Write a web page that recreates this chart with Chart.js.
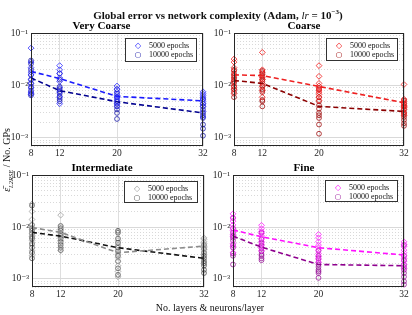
<!DOCTYPE html>
<html lang="en">
<head>
<meta charset="UTF-8">
<title>Global error vs network complexity</title>
<script src="https://cdn.jsdelivr.net/npm/chart.js"></script>
<style>
  body { margin: 0; background: #fff; font-family: 'Liberation Serif', 'DejaVu Serif', serif; color: #111; }
  #wrap { position: relative; width: 412px; height: 315px; overflow: hidden; }
  canvas { position: absolute; }
  .txt { position: absolute; white-space: nowrap; }
  #title { left: 218px; top: 5px; transform: translateX(-50%); font-size: 11px; font-weight: bold; line-height: 14px; }
  #title i { font-weight: normal; }
  #title sup { font-size: 7px; }
  #xlabel { left: 210px; top: 301px; transform: translateX(-50%); font-size: 10px; line-height: 13px; }
  #ylabel { left: 9px; top: 160px; transform: translate(-50%, -50%) rotate(-90deg); font-size: 10px; line-height: 12px; }
  #ylabel sub { font-size: 6.5px; font-style: italic; }
  .legend { position: absolute; border: 1px solid #333; background: #fff; font-size: 8px; box-sizing: border-box; color: #111; }
  .legend div { position: absolute; left: 0; right: 0; height: 10px; line-height: 10px; white-space: nowrap; }
  .legend span.m { position: absolute; left: 7px; width: 10px; text-align: center; font-family: 'DejaVu Sans', sans-serif; font-size: 8px; }
  .legend span.t { position: absolute; left: 23px; white-space: nowrap; transform: translateZ(0); }
</style>
</head>
<body>
<div id="wrap">
  <canvas id="c1" width="210" height="142" style="left:0;top:18px"></canvas>
  <canvas id="c2" width="207" height="142" style="left:204px;top:18px"></canvas>
  <canvas id="c3" width="211" height="141" style="left:0;top:160px"></canvas>
  <canvas id="c4" width="207" height="141" style="left:204px;top:160px"></canvas>

  <div class="txt" id="title">Global error vs network complexity (Adam, <i>lr</i> = 10<sup>−3</sup>)</div>
  <div class="txt" id="xlabel">No. layers &amp; neurons/layer</div>
  <div class="txt" id="ylabel"><i>ε̄</i><sub>L2RSE</sub> / No. GPs</div>

  <div class="legend" id="l1" style="left:125px;top:38px;width:72px;height:24px"></div>
  <div class="legend" id="l2" style="left:326px;top:38px;width:72px;height:23px"></div>
  <div class="legend" id="l3" style="left:124px;top:181px;width:74px;height:22px"></div>
  <div class="legend" id="l4" style="left:325px;top:180px;width:73px;height:22px"></div>
</div>

<script>
// x positions (layers & neurons/layer)
const xTicks = [8, 12, 20, 32];
const yTicks = [1e-3, 1e-2, 1e-1];
const yTickLabels = ['10⁻³', '10⁻²', '10⁻¹'];
const yMinorTicks = [7e-4, 8e-4, 9e-4,
  2e-3, 3e-3, 4e-3, 5e-3, 6e-3, 7e-3, 8e-3, 9e-3,
  2e-2, 3e-2, 4e-2, 5e-2, 6e-2, 7e-2, 8e-2, 9e-2];
const seriesLabels = ['5000 epochs', '10000 epochs'];

// one inner array per x position
const veryCoarse5000 = [
  [0.052, 0.028, 0.022, 0.018, 0.016, 0.013, 0.011, 0.009, 0.0075, 0.0068],
  [0.024, 0.02, 0.017, 0.014, 0.012, 0.009, 0.0075, 0.006, 0.0045],
  [0.0098, 0.0085, 0.0075, 0.0065, 0.006, 0.0055, 0.005, 0.0045, 0.004],
  [0.0076, 0.007, 0.0065, 0.006, 0.0055, 0.005, 0.0045, 0.004, 0.0032, 0.0025]
];
const veryCoarse10000 = [
  [0.03, 0.026, 0.02, 0.016, 0.013, 0.011, 0.0095, 0.008, 0.007, 0.0065],
  [0.017, 0.013, 0.0095, 0.0085, 0.0078, 0.007, 0.0062, 0.0055, 0.005],
  [0.0085, 0.007, 0.006, 0.005, 0.0045, 0.004, 0.0035, 0.003, 0.0023],
  [0.0055, 0.0045, 0.004, 0.0035, 0.003, 0.0027, 0.0024, 0.0018, 0.0015, 0.0011]
];
const veryCoarseMean5000 = [0.0186, 0.0136, 0.0062, 0.0051];
const veryCoarseMean10000 = [0.014, 0.008, 0.0049, 0.003];

const coarse5000 = [
  [0.032, 0.028, 0.022, 0.019, 0.016, 0.014, 0.012, 0.0098, 0.0085, 0.007],
  [0.043, 0.02, 0.018, 0.016, 0.014, 0.013, 0.011, 0.0095, 0.008, 0.006],
  [0.024, 0.015, 0.011, 0.0098, 0.009, 0.0082, 0.0075, 0.0068, 0.006, 0.0052],
  [0.0105, 0.0055, 0.005, 0.0046, 0.0042, 0.004, 0.0038, 0.0035, 0.003, 0.0027]
];
const coarse10000 = [
  [0.02, 0.017, 0.015, 0.013, 0.012, 0.011, 0.0095, 0.0085, 0.0075, 0.006],
  [0.019, 0.017, 0.015, 0.013, 0.012, 0.01, 0.0085, 0.0075, 0.0053, 0.005, 0.004],
  [0.0085, 0.006, 0.005, 0.0042, 0.0036, 0.003, 0.0027, 0.0024, 0.0018, 0.0012],
  [0.0052, 0.0045, 0.004, 0.0035, 0.0031, 0.0028, 0.0025, 0.0022, 0.0019, 0.0017]
];
const coarseMean5000 = [0.016, 0.0155, 0.0096, 0.0047];
const coarseMean10000 = [0.0125, 0.011, 0.004, 0.0032];

const intermediate5000 = [
  [0.028, 0.02, 0.014, 0.011, 0.009, 0.0075, 0.0065, 0.0055, 0.0045, 0.0035, 0.0028],
  [0.017, 0.0105, 0.009, 0.0078, 0.007, 0.0062, 0.0055, 0.0048, 0.004, 0.0035],
  [0.008, 0.0055, 0.0045, 0.0036, 0.003, 0.0026, 0.0022, 0.0018, 0.0014, 0.0011],
  [0.0062, 0.0058, 0.0052, 0.0048, 0.0045, 0.0042, 0.004, 0.0037, 0.0033, 0.003]
];
const intermediate10000 = [
  [0.026, 0.011, 0.0095, 0.0085, 0.0075, 0.0065, 0.006, 0.0048, 0.004, 0.0032, 0.0025],
  [0.0105, 0.0095, 0.0085, 0.0075, 0.0068, 0.006, 0.0052, 0.0045, 0.004, 0.0036],
  [0.0085, 0.0078, 0.006, 0.005, 0.004, 0.0034, 0.0028, 0.0022, 0.0016, 0.0012],
  [0.0045, 0.0038, 0.0032, 0.0028, 0.0025, 0.0022, 0.002, 0.0018, 0.0015, 0.0013]
];
const intermediateMean5000 = [0.0098, 0.0079, 0.0032, 0.0043];
const intermediateMean10000 = [0.0079, 0.0067, 0.004, 0.0025];

const fine5000 = [
  [0.018, 0.015, 0.013, 0.011, 0.0095, 0.0085, 0.0072, 0.0065, 0.0048, 0.0042, 0.0032],
  [0.0108, 0.0093, 0.0082, 0.0075, 0.0068, 0.006, 0.0052, 0.0046, 0.004, 0.0035],
  [0.0072, 0.0062, 0.0052, 0.0045, 0.004, 0.0036, 0.0031, 0.0027, 0.0024, 0.0021],
  [0.0052, 0.0046, 0.0042, 0.0036, 0.0032, 0.0028, 0.0025, 0.0022, 0.0019, 0.0016]
];
const fine10000 = [
  [0.015, 0.0095, 0.0078, 0.0068, 0.0062, 0.0055, 0.0045, 0.004, 0.0031, 0.0028, 0.0019],
  [0.0078, 0.0058, 0.005, 0.0044, 0.0039, 0.0034, 0.003, 0.0028, 0.0025, 0.0023],
  [0.0035, 0.0028, 0.0025, 0.0021, 0.0019, 0.0017, 0.0015, 0.0014, 0.0013, 0.00105],
  [0.0045, 0.0028, 0.0023, 0.0019, 0.0017, 0.0015, 0.0013, 0.0011, 0.0009, 0.00078]
];
const fineMean5000 = [0.0088, 0.0065, 0.004, 0.0029];
const fineMean10000 = [0.0067, 0.0041, 0.0019, 0.0018];

const serif = "'Liberation Serif', 'DejaVu Serif', serif";

// box round the plot area, like the matlab axes
const framePlugin = {
  id: 'frame',
  afterDraw(chart) {
    const a = chart.chartArea, ctx = chart.ctx;
    ctx.save();
    ctx.strokeStyle = '#262626';
    ctx.lineWidth = 1;
    ctx.strokeRect(Math.round(a.left) + 0.5, Math.round(a.top) + 0.5, Math.round(a.width) - 1, Math.round(a.height) - 1);
    ctx.restore();
  }
};

function toPoints(cols) {
  const pts = [];
  cols.forEach((col, i) => col.forEach(v => pts.push({ x: xTicks[i], y: v })));
  return pts;
}

function makePanel(id, title, yWidth, s5000, s10000, m5000, m10000, colors) {
  const scatter = (data, style, color, label) => ({
    label: label, data: toPoints(data), order: 2, clip: false,
    pointStyle: style, pointRadius: style === 'rectRot' ? 2.9 : 2.4,
    borderColor: color, backgroundColor: 'rgba(0,0,0,0)', pointBorderWidth: 0.8
  });
  const meanLine = (means, color) => ({
    data: means.map((v, i) => ({ x: xTicks[i], y: v })), order: 0, clip: false,
    showLine: true, pointRadius: 0, borderColor: color, borderWidth: 1.6, borderDash: [5, 3]
  });
  new Chart(document.getElementById(id), {
    type: 'scatter',
    data: {
      datasets: [
        meanLine(m5000, colors.line5000),
        meanLine(m10000, colors.line10000),
        scatter(s5000, 'rectRot', colors.pt5000, seriesLabels[0]),
        scatter(s10000, 'circle', colors.pt10000, seriesLabels[1])
      ]
    },
    options: {
      responsive: false,
      animation: false,
      layout: { padding: { top: 2, right: 7, left: 0, bottom: 0 } },
      plugins: {
        legend: { display: false },
        tooltip: { enabled: false },
        title: {
          display: true, text: title, color: '#000',
          font: { family: serif, size: 11, weight: 'bold' },
          padding: { top: 0, bottom: 0 }
        }
      },
      scales: {
        x: {
          type: 'linear', min: 8, max: 32,
          afterBuildTicks: s => { s.ticks = xTicks.map(v => ({ value: v })); },
          afterFit: s => { s.height = 14; },
          ticks: { color: '#262626', font: { family: serif, size: 9.5 }, padding: 2, maxRotation: 0, autoSkip: false },
          grid: { color: '#dedede', drawTicks: false },
          border: { display: false }
        },
        y: {
          type: 'logarithmic', min: 7e-4, max: 0.1,
          afterBuildTicks: s => { s.ticks = yTicks.map(v => ({ value: v })); },
          afterFit: s => { s.width = yWidth; },
          ticks: {
            color: '#262626', font: { family: serif, size: 9.5 }, padding: 3,
            callback: v => yTickLabels[yTicks.indexOf(v)]
          },
          grid: { color: '#d9d9d9', drawTicks: false },
          border: { display: false }
        },
        yMinor: {
          type: 'logarithmic', min: 7e-4, max: 0.1, position: 'left',
          afterBuildTicks: s => { s.ticks = yMinorTicks.map(v => ({ value: v })); },
          afterFit: s => { s.width = 0; },
          ticks: { display: false },
          grid: { color: '#cfcfcf', drawTicks: false, lineWidth: 0.8 },
          border: { display: false, dash: [1, 2] }
        }
      }
    },
    plugins: [framePlugin]
  });
}

function makeLegend(id, colors) {
  const el = document.getElementById(id);
  el.innerHTML =
    '<div style="top:2px"><span class="m" style="color:' + colors.pt5000 + '">◇</span><span class="t">' + seriesLabels[0] + '</span></div>' +
    '<div style="top:11px"><span class="m" style="color:' + colors.pt10000 + '">○</span><span class="t">' + seriesLabels[1] + '</span></div>';
}

const blue = { pt5000: '#2a2aff', pt10000: '#1c1ca8', line5000: '#1a1aff', line10000: '#00008f' };
const red = { pt5000: '#f01818', pt10000: '#a01010', line5000: '#ee2020', line10000: '#8b0000' };
const gray = { pt5000: '#a0a0a0', pt10000: '#505050', line5000: '#8c8c8c', line10000: '#111111' };
const magenta = { pt5000: '#ff20ff', pt10000: '#9a1a9a', line5000: '#ff10ff', line10000: '#8e008e' };

makePanel('c1', 'Very Coarse', 31, veryCoarse5000, veryCoarse10000, veryCoarseMean5000, veryCoarseMean10000, blue);
makePanel('c2', 'Coarse', 30, coarse5000, coarse10000, coarseMean5000, coarseMean10000, red);
makePanel('c3', 'Intermediate', 32, intermediate5000, intermediate10000, intermediateMean5000, intermediateMean10000, gray);
makePanel('c4', 'Fine', 29, fine5000, fine10000, fineMean5000, fineMean10000, magenta);

makeLegend('l1', blue);
makeLegend('l2', red);
makeLegend('l3', gray);
makeLegend('l4', magenta);
</script>
</body>
</html>
